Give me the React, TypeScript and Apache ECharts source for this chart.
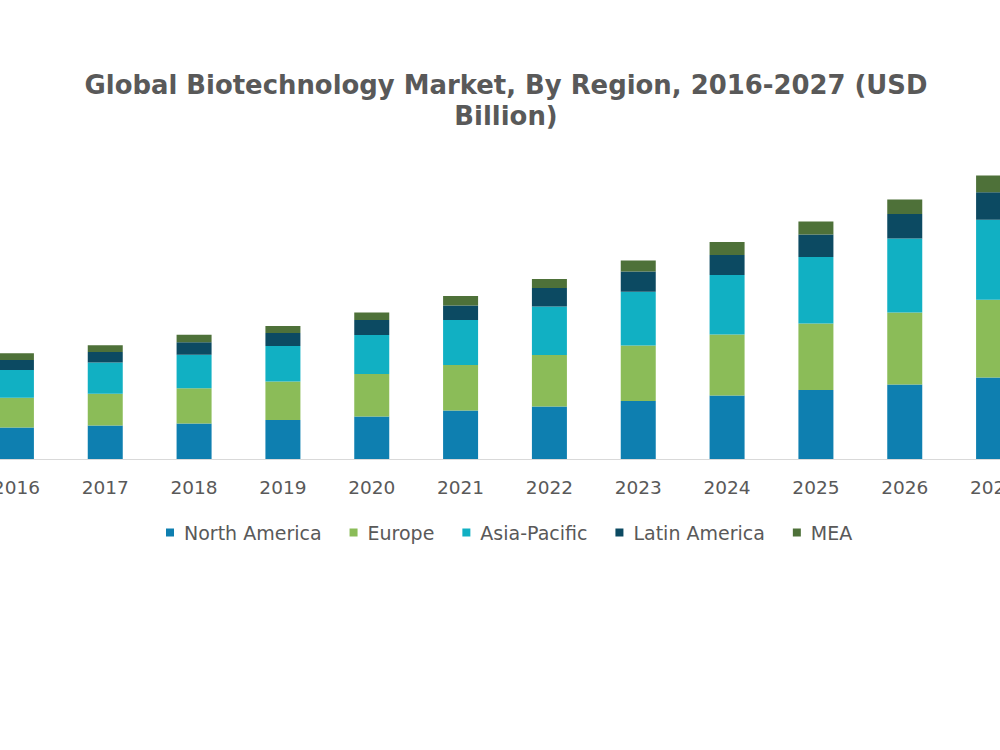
import React, { useEffect, useRef } from "react";
import * as echarts from "echarts";

// Years on the category axis
const years = ["2016", "2017", "2018", "2019", "2020", "2021", "2022", "2023", "2024", "2025", "2026", "2027"];

// Market size by region, USD billion
const northAmerica = [158, 168, 177, 195, 213, 242, 263, 290, 318, 345, 373, 408];
const europe = [148, 158, 177, 193, 212, 228, 257, 278, 305, 332, 360, 388];
const asiaPacific = [139, 157, 167, 177, 195, 225, 242, 268, 297, 333, 370, 400];
const latinAmerica = [50, 52, 63, 65, 75, 72, 93, 102, 100, 112, 122, 138];
const mea = [34, 34, 37, 35, 37, 48, 45, 55, 65, 65, 73, 83];

const regionNames = ["North America", "Europe", "Asia-Pacific", "Latin America", "MEA"];
const regionValues = [northAmerica, europe, asiaPacific, latinAmerica, mea];
const regionColors = ["#0e7fb0", "#8bbc58", "#11b0c3", "#0c4a62", "#4e7139"];

const FONT = "DejaVu Sans, Verdana, sans-serif";
const TEXT_GRAY = "#595959";

// The plot runs past both edges of the frame, so the chart canvas is wider
// than the visible window and shifted left inside it.
const SHIFT = 28;
const CANVAS_WIDTH = 1066;

export default function App() {
  const ref = useRef<HTMLDivElement>(null);

  useEffect(() => {
    if (!ref.current) return;
    const chart = echarts.init(ref.current, undefined, { renderer: "svg" });

    chart.setOption({
      animation: false,
      backgroundColor: "#ffffff",
      title: {
        text: "Global Biotechnology Market, By Region, 2016-2027 (USD\nBillion)",
        left: 506 + SHIFT - 5,
        top: 64,
        textAlign: "center",
        textStyle: {
          fontFamily: FONT,
          fontSize: 25.9,
          fontWeight: "bold",
          color: TEXT_GRAY,
          lineHeight: 31,
        },
      },
      legend: {
        left: 161 + SHIFT,
        top: 518,
        itemWidth: 8,
        itemHeight: 8,
        itemGap: 28,
        icon: "rect",
        textStyle: {
          fontFamily: FONT,
          fontSize: 19,
          color: TEXT_GRAY,
          padding: [0, 0, 0, 5],
        },
        data: regionNames,
      },
      grid: {
        left: 0,
        right: 0,
        top: 159,
        bottom: 291,
        containLabel: false,
      },
      xAxis: {
        type: "category",
        data: years,
        axisLine: { show: true, lineStyle: { color: "#d9d9d9", width: 1 } },
        axisTick: { show: false },
        axisLabel: {
          fontFamily: FONT,
          fontSize: 18.5,
          color: TEXT_GRAY,
          margin: 19,
        },
      },
      yAxis: {
        type: "value",
        min: 0,
        max: 1500,
        show: false,
        splitLine: { show: false },
      },
      series: regionNames.map((name, i) => ({
        name,
        type: "bar",
        stack: "total",
        barWidth: 35,
        itemStyle: { color: regionColors[i] },
        data: regionValues[i],
      })),
    });

    return () => chart.dispose();
  }, []);

  return (
    <div
      style={{
        position: "fixed",
        left: 0,
        top: 0,
        width: 1000,
        height: 750,
        overflow: "hidden",
        background: "#ffffff",
      }}
    >
      <div
        ref={ref}
        style={{ position: "absolute", left: -SHIFT, top: 0, width: CANVAS_WIDTH, height: 750 }}
      />
    </div>
  );
}
